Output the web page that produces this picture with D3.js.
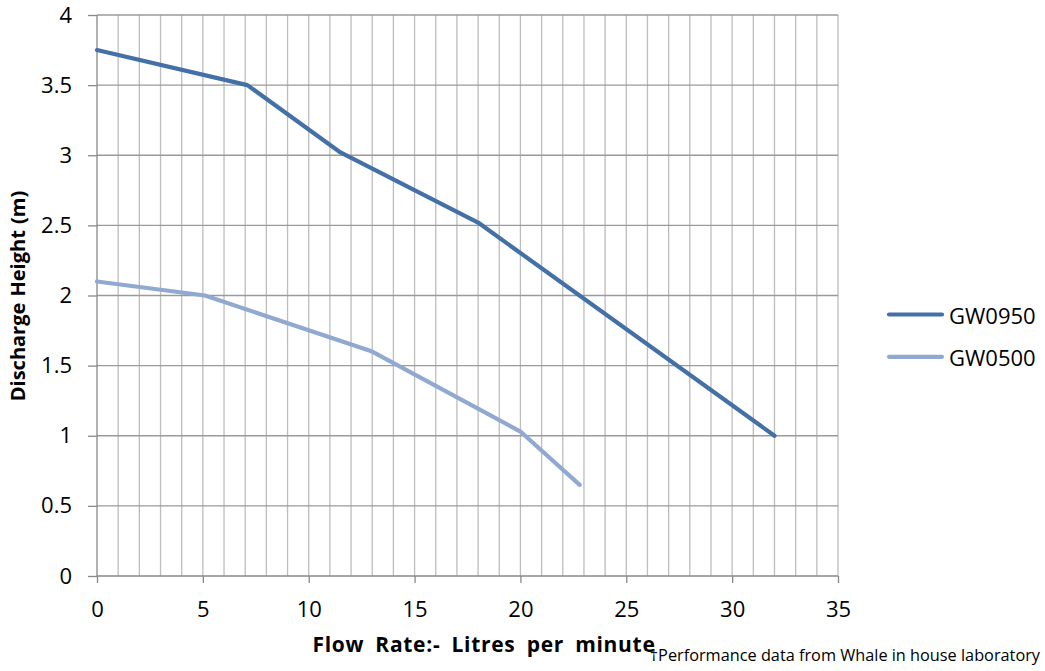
<!DOCTYPE html>
<html><head><meta charset="utf-8">
<script src="https://cdn.jsdelivr.net/npm/d3@7"></script>
<style>body{margin:0;background:#fff}svg{display:block}text{font-family:"Open Sans",sans-serif}</style>
</head><body><svg id="c" width="1045" height="671"></svg>
<script>
const seriesNames = ["GW0950", "GW0500"];
const gw0950X = [0, 7.1, 11.5, 18, 32];
const gw0950Y = [3.75, 3.5, 3.02, 2.52, 1.0];
const gw0500X = [0, 5.1, 13, 20, 22.8];
const gw0500Y = [2.1, 2.0, 1.6, 1.03, 0.65];
const xTicks = [0, 5, 10, 15, 20, 25, 30, 35];
const yTicks = [0, 0.5, 1, 1.5, 2, 2.5, 3, 3.5, 4];
const colors = ["#4470a8", "#90a9d1"];

const svg = d3.select("#c");
const L = 97, R = 838, T = 15, B = 576;
const x = d3.scaleLinear().domain([0, 35]).range([L, R]);
const y = d3.scaleLinear().domain([0, 4]).range([B, T]);

const g = svg.append("g");
g.selectAll("line.v").data(d3.range(1, 36)).join("line")
  .attr("x1", d => x(d)).attr("x2", d => x(d)).attr("y1", T).attr("y2", B)
  .attr("stroke", "#bdbdbd").attr("stroke-width", 1.3);
g.selectAll("line.h").data(yTicks.slice(1)).join("line")
  .attr("x1", L).attr("x2", R).attr("y1", d => y(d)).attr("y2", d => y(d))
  .attr("stroke", "#9a9a9a").attr("stroke-width", 1.3);

const xAxis = d3.axisBottom(x).tickValues(xTicks).tickSize(7).tickPadding(18);
const ax = svg.append("g").attr("transform", `translate(0,${B})`).call(xAxis);
ax.select(".domain").attr("stroke", "#888").attr("stroke-width", 1.3).attr("d", `M${L},0H${R}`);
ax.selectAll(".tick line").attr("stroke", "#888").attr("stroke-width", 1.3);
ax.selectAll(".tick text").attr("font-size", 22).attr("fill", "#000").attr("font-family", "Open Sans");

const yAxis = d3.axisLeft(y).tickValues(yTicks).tickSize(9).tickPadding(16).tickFormat(d3.format("~g"));
const ay = svg.append("g").attr("transform", `translate(${L},0)`).call(yAxis);
ay.select(".domain").attr("stroke", "#888").attr("stroke-width", 1.3).attr("d", `M0,${T}V${B}`);
ay.selectAll(".tick line").attr("stroke", "#888").attr("stroke-width", 1.3);
ay.selectAll(".tick text").attr("font-size", 22).attr("fill", "#000").attr("font-family", "Open Sans");

const data = [gw0950X.map((v, i) => [v, gw0950Y[i]]), gw0500X.map((v, i) => [v, gw0500Y[i]])];
const line = d3.line().x(d => x(d[0])).y(d => y(d[1]));
svg.selectAll("path.s").data(data).join("path")
  .attr("d", line).attr("fill", "none")
  .attr("stroke", (d, i) => colors[i]).attr("stroke-width", 4.2)
  .attr("stroke-linejoin", "round").attr("stroke-linecap", "round");

const lg = svg.append("g");
seriesNames.forEach((n, i) => {
  const yy = 314.5 + i * 42.3;
  lg.append("line").attr("x1", 889).attr("x2", 942).attr("y1", yy).attr("y2", yy)
    .attr("stroke", colors[i]).attr("stroke-width", 4.2).attr("stroke-linecap", "round");
  lg.append("text").attr("x", 949).attr("y", yy + 9).attr("font-size", 22).text(n);
});

svg.append("text").attr("x", 484).attr("y", 652).attr("text-anchor", "middle")
  .attr("font-size", 21).attr("font-weight", "bold").attr("word-spacing", 5).attr("letter-spacing", 0.7)
  .text("Flow Rate:- Litres per minute");
svg.append("text").attr("transform", "translate(25,296) rotate(-90)").attr("text-anchor", "middle")
  .attr("font-size", 20).attr("font-weight", "bold").attr("word-spacing", 1).text("Discharge Height (m)");
svg.append("text").attr("x", 1040).attr("y", 661).attr("text-anchor", "end")
  .attr("font-size", 16.3).text("†Performance data from Whale in house laboratory");
</script></body></html>
